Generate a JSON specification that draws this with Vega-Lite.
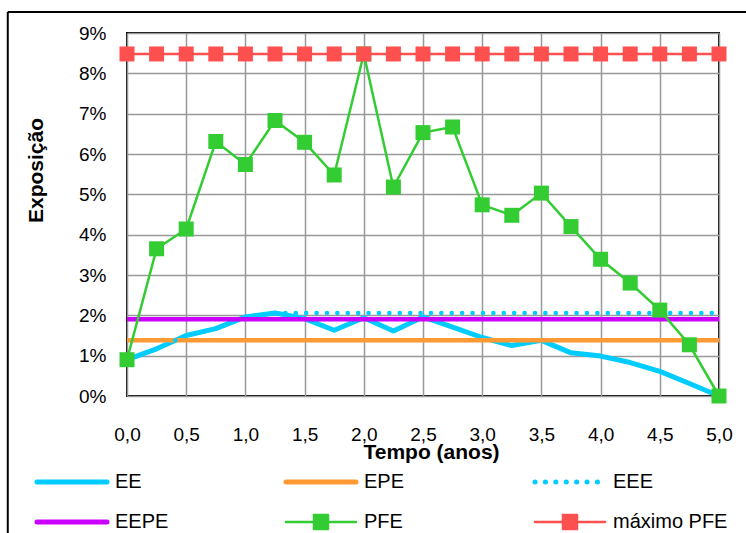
{
  "$schema": "https://vega.github.io/schema/vega-lite/v6.json",
  "width": 592,
  "height": 363,
  "autosize": {"type": "none"},
  "padding": {"left": 127, "top": 33, "right": 27, "bottom": 137},
  "background": "white",
  "config": {
    "font": "Liberation Sans",
    "view": {"stroke": "black", "strokeWidth": 2},
    "axis": {"labelColor": "black", "titleColor": "black"}
  },
  "data": {
    "values": [
      {"s": "EE", "t": 0, "v": 0.009}, {"s": "EE", "t": 0.25, "v": 0.0117}, {"s": "EE", "t": 0.5, "v": 0.015}, {"s": "EE", "t": 0.75, "v": 0.0167},
      {"s": "EE", "t": 1, "v": 0.0196}, {"s": "EE", "t": 1.25, "v": 0.0206}, {"s": "EE", "t": 1.5, "v": 0.0192}, {"s": "EE", "t": 1.75, "v": 0.0163},
      {"s": "EE", "t": 2, "v": 0.0194}, {"s": "EE", "t": 2.25, "v": 0.0161}, {"s": "EE", "t": 2.5, "v": 0.0196}, {"s": "EE", "t": 2.75, "v": 0.0171},
      {"s": "EE", "t": 3, "v": 0.0145}, {"s": "EE", "t": 3.25, "v": 0.0125}, {"s": "EE", "t": 3.5, "v": 0.0138}, {"s": "EE", "t": 3.75, "v": 0.0107},
      {"s": "EE", "t": 4, "v": 0.0099}, {"s": "EE", "t": 4.25, "v": 0.0083}, {"s": "EE", "t": 4.5, "v": 0.0061}, {"s": "EE", "t": 4.75, "v": 0.0031},
      {"s": "EE", "t": 5, "v": 0.0},
      {"s": "EPE", "t": 0, "v": 0.0138}, {"s": "EPE", "t": 5, "v": 0.0138},
      {"s": "EEE", "t": 0, "v": 0.009}, {"s": "EEE", "t": 0.25, "v": 0.0117}, {"s": "EEE", "t": 0.5, "v": 0.015}, {"s": "EEE", "t": 0.75, "v": 0.0167},
      {"s": "EEE", "t": 1, "v": 0.0196}, {"s": "EEE", "t": 1.25, "v": 0.0206}, {"s": "EEE", "t": 1.5, "v": 0.0206}, {"s": "EEE", "t": 1.75, "v": 0.0206},
      {"s": "EEE", "t": 2, "v": 0.0206}, {"s": "EEE", "t": 2.25, "v": 0.0206}, {"s": "EEE", "t": 2.5, "v": 0.0206}, {"s": "EEE", "t": 2.75, "v": 0.0206},
      {"s": "EEE", "t": 3, "v": 0.0206}, {"s": "EEE", "t": 3.25, "v": 0.0206}, {"s": "EEE", "t": 3.5, "v": 0.0206}, {"s": "EEE", "t": 3.75, "v": 0.0206},
      {"s": "EEE", "t": 4, "v": 0.0206}, {"s": "EEE", "t": 4.25, "v": 0.0206}, {"s": "EEE", "t": 4.5, "v": 0.0206}, {"s": "EEE", "t": 4.75, "v": 0.0206},
      {"s": "EEE", "t": 5, "v": 0.0206},
      {"s": "EEPE", "t": 0, "v": 0.019}, {"s": "EEPE", "t": 5, "v": 0.019},
      {"s": "PFE", "t": 0, "v": 0.009}, {"s": "PFE", "t": 0.25, "v": 0.0365}, {"s": "PFE", "t": 0.5, "v": 0.0414}, {"s": "PFE", "t": 0.75, "v": 0.0631},
      {"s": "PFE", "t": 1, "v": 0.0574}, {"s": "PFE", "t": 1.25, "v": 0.0683}, {"s": "PFE", "t": 1.5, "v": 0.0629}, {"s": "PFE", "t": 1.75, "v": 0.0548},
      {"s": "PFE", "t": 2, "v": 0.0848}, {"s": "PFE", "t": 2.25, "v": 0.0518}, {"s": "PFE", "t": 2.5, "v": 0.0653}, {"s": "PFE", "t": 2.75, "v": 0.0667},
      {"s": "PFE", "t": 3, "v": 0.0474}, {"s": "PFE", "t": 3.25, "v": 0.0448}, {"s": "PFE", "t": 3.5, "v": 0.0503}, {"s": "PFE", "t": 3.75, "v": 0.042},
      {"s": "PFE", "t": 4, "v": 0.0339}, {"s": "PFE", "t": 4.25, "v": 0.028}, {"s": "PFE", "t": 4.5, "v": 0.0213}, {"s": "PFE", "t": 4.75, "v": 0.0127},
      {"s": "PFE", "t": 5, "v": 0.0},
      {"s": "máximo PFE", "t": 0, "v": 0.0848}, {"s": "máximo PFE", "t": 0.25, "v": 0.0848}, {"s": "máximo PFE", "t": 0.5, "v": 0.0848}, {"s": "máximo PFE", "t": 0.75, "v": 0.0848},
      {"s": "máximo PFE", "t": 1, "v": 0.0848}, {"s": "máximo PFE", "t": 1.25, "v": 0.0848}, {"s": "máximo PFE", "t": 1.5, "v": 0.0848}, {"s": "máximo PFE", "t": 1.75, "v": 0.0848},
      {"s": "máximo PFE", "t": 2, "v": 0.0848}, {"s": "máximo PFE", "t": 2.25, "v": 0.0848}, {"s": "máximo PFE", "t": 2.5, "v": 0.0848}, {"s": "máximo PFE", "t": 2.75, "v": 0.0848},
      {"s": "máximo PFE", "t": 3, "v": 0.0848}, {"s": "máximo PFE", "t": 3.25, "v": 0.0848}, {"s": "máximo PFE", "t": 3.5, "v": 0.0848}, {"s": "máximo PFE", "t": 3.75, "v": 0.0848},
      {"s": "máximo PFE", "t": 4, "v": 0.0848}, {"s": "máximo PFE", "t": 4.25, "v": 0.0848}, {"s": "máximo PFE", "t": 4.5, "v": 0.0848}, {"s": "máximo PFE", "t": 4.75, "v": 0.0848},
      {"s": "máximo PFE", "t": 5, "v": 0.0848}
    ]
  },
  "encoding": {
    "x": {
      "field": "t", "type": "quantitative",
      "scale": {"domain": [0, 5], "nice": false, "zero": false},
      "axis": {
        "title": "Tempo (anos)",
        "values": [0, 0.5, 1, 1.5, 2, 2.5, 3, 3.5, 4, 4.5, 5],
        "labelExpr": "replace(format(datum.value, '.1f'), '.', ',')",
        "grid": true, "gridColor": "#999999", "gridWidth": 1.5,
        "domain": false, "ticks": false, "labelPadding": 29,
        "labelFontSize": 19, "labelFlush": false, "labelOverlap": false,
        "titleFontSize": 21, "titleFontWeight": "bold",
        "titleX": 304, "titleY": 56, "titleBaseline": "middle", "titleAlign": "center"
      }
    },
    "y": {
      "field": "v", "type": "quantitative",
      "scale": {"domain": [0, 0.09], "nice": false},
      "axis": {
        "title": "Exposição",
        "values": [0, 0.01, 0.02, 0.03, 0.04, 0.05, 0.06, 0.07, 0.08, 0.09],
        "format": ".0%",
        "grid": true, "gridColor": "#999999", "gridWidth": 1.5,
        "domain": false, "ticks": false, "labelPadding": 21,
        "labelFontSize": 19, "labelFlush": false, "labelOverlap": false,
        "titleFontSize": 21, "titleFontWeight": "bold",
        "titleX": -91, "titleY": 137, "titleBaseline": "middle", "titleAlign": "center", "titleAngle": -90
      }
    }
  },
  "layer": [
    {
      "transform": [{"filter": "datum.s === 'EE' && datum.t === 0"}],
      "mark": {"type": "rule", "color": "black", "strokeWidth": 2, "clip": false},
      "encoding": {
        "x": {"datum": -1.007, "type": "quantitative"},
        "y": {"datum": 0.0952, "type": "quantitative"},
        "y2": {"datum": -0.04}
      }
    },
    {
      "transform": [{"filter": "datum.s === 'EE' && datum.t === 0"}],
      "mark": {"type": "rule", "color": "black", "strokeWidth": 2, "clip": false},
      "encoding": {
        "x": {"datum": -1.007, "type": "quantitative"},
        "x2": {"datum": 5.4},
        "y": {"datum": 0.0952, "type": "quantitative"}
      }
    },
    {
      "transform": [{"filter": "datum.s === 'EE'"}],
      "mark": {"type": "line", "strokeWidth": 5, "strokeJoin": "round"},
      "encoding": {
        "color": {"field": "s", "type": "nominal",
          "scale": {"domain": ["EE", "EPE", "EEE", "EEPE", "PFE", "máximo PFE"], "range": ["#00CCFF", "#FF9933", "#00CCFF", "#CC00FF", "#33CC33", "#FF5050"]},
          "legend": {"orient": "none", "legendX": -90, "legendY": 438, "direction": "horizontal", "columns": 3, "title": null, "gridAlign": "all", "columnPadding": 46, "rowPadding": 17, "symbolSize": 400, "symbolStrokeWidth": 4, "symbolOffset": 25, "labelOffset": 33, "labelFontSize": 20, "labelFont": "Liberation Sans", "labelColor": "black", "padding": 0,
            "encode": {"symbols": {"update": {
              "shape": {"signal": "(datum.value === 'PFE' || datum.value === 'máximo PFE') ? 'M-3.5,0H3.5M-0.7,-0.7H0.7V0.7H-0.7Z' : 'M-3.5,0H3.5'"},
              "strokeDash": {"signal": "datum.value === 'EEE' ? [0.1, 10.3] : [1, 0]"},
              "strokeWidth": {"signal": "(datum.value === 'PFE' || datum.value === 'máximo PFE') ? 2.5 : 5"},
              "strokeCap": {"value": "round"},
              "fill": {"signal": "(datum.value === 'PFE' || datum.value === 'máximo PFE') ? scale('color', datum.value) : 'transparent'"},
              "stroke": {"signal": "scale('color', datum.value)"},
              "opacity": {"value": 1}
            }}}
          }
        }
      }
    },
    {
      "transform": [{"filter": "datum.s === 'EPE'"}],
      "mark": {"type": "line", "strokeWidth": 4.5},
      "encoding": {"color": {"field": "s", "type": "nominal", "scale": {"domain": ["EE", "EPE", "EEE", "EEPE", "PFE", "máximo PFE"], "range": ["#00CCFF", "#FF9933", "#00CCFF", "#CC00FF", "#33CC33", "#FF5050"]}}}
    },
    {
      "transform": [{"filter": "datum.s === 'EEE'"}],
      "mark": {"type": "line", "strokeWidth": 4.5, "strokeDash": [0.1, 10.3], "strokeCap": "round"},
      "encoding": {"color": {"field": "s", "type": "nominal", "scale": {"domain": ["EE", "EPE", "EEE", "EEPE", "PFE", "máximo PFE"], "range": ["#00CCFF", "#FF9933", "#00CCFF", "#CC00FF", "#33CC33", "#FF5050"]}}}
    },
    {
      "transform": [{"filter": "datum.s === 'EEPE'"}],
      "mark": {"type": "line", "strokeWidth": 4.5},
      "encoding": {"color": {"field": "s", "type": "nominal", "scale": {"domain": ["EE", "EPE", "EEE", "EEPE", "PFE", "máximo PFE"], "range": ["#00CCFF", "#FF9933", "#00CCFF", "#CC00FF", "#33CC33", "#FF5050"]}}}
    },
    {
      "transform": [{"filter": "datum.s === 'PFE'"}],
      "mark": {"type": "line", "strokeWidth": 2.5},
      "encoding": {"color": {"field": "s", "type": "nominal", "scale": {"domain": ["EE", "EPE", "EEE", "EEPE", "PFE", "máximo PFE"], "range": ["#00CCFF", "#FF9933", "#00CCFF", "#CC00FF", "#33CC33", "#FF5050"]}}}
    },
    {
      "transform": [{"filter": "datum.s === 'PFE'"}],
      "mark": {"type": "point", "shape": "square", "filled": true, "size": 225, "opacity": 1},
      "encoding": {"color": {"field": "s", "type": "nominal", "scale": {"domain": ["EE", "EPE", "EEE", "EEPE", "PFE", "máximo PFE"], "range": ["#00CCFF", "#FF9933", "#00CCFF", "#CC00FF", "#33CC33", "#FF5050"]}}}
    },
    {
      "transform": [{"filter": "datum.s === 'máximo PFE'"}],
      "mark": {"type": "line", "strokeWidth": 2.5},
      "encoding": {"color": {"field": "s", "type": "nominal", "scale": {"domain": ["EE", "EPE", "EEE", "EEPE", "PFE", "máximo PFE"], "range": ["#00CCFF", "#FF9933", "#00CCFF", "#CC00FF", "#33CC33", "#FF5050"]}}}
    },
    {
      "transform": [{"filter": "datum.s === 'máximo PFE'"}],
      "mark": {"type": "point", "shape": "square", "filled": true, "size": 225, "opacity": 1},
      "encoding": {"color": {"field": "s", "type": "nominal", "scale": {"domain": ["EE", "EPE", "EEE", "EEPE", "PFE", "máximo PFE"], "range": ["#00CCFF", "#FF9933", "#00CCFF", "#CC00FF", "#33CC33", "#FF5050"]}}}
    }
  ]
}
